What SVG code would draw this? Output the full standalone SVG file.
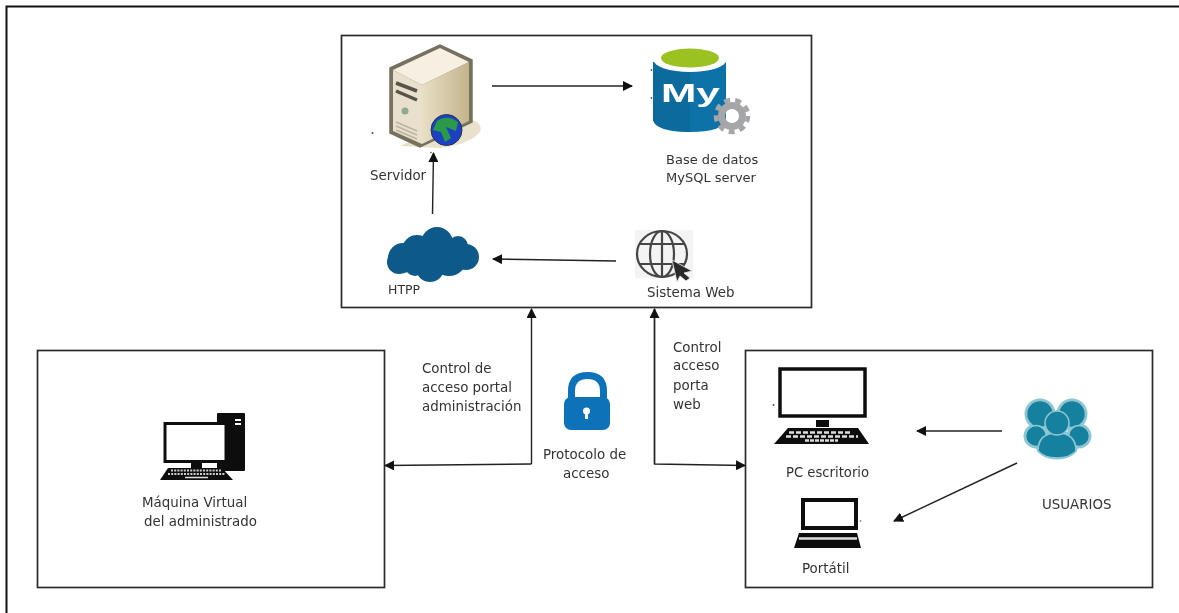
<svg xmlns="http://www.w3.org/2000/svg" width="1179" height="613" viewBox="0 0 1179 613">
<defs>
<style>
.box{fill:#fff;stroke:#2a2a2a;stroke-width:1.7}
.frame{fill:none;stroke:#111;stroke-width:2}
.c{fill:none;stroke:#222;stroke-width:1.4}
.soft{filter:url(#s)}
text{font-family:"DejaVu Sans","Liberation Sans",sans-serif;font-size:13.4px;fill:#333}
.speck{fill:#555}
</style>
<filter id="s" x="-5%" y="-5%" width="110%" height="110%"><feGaussianBlur stdDeviation="0.45"/></filter>
<marker id="a" viewBox="0 0 10 10" refX="9" refY="5" markerWidth="10" markerHeight="10" markerUnits="userSpaceOnUse" orient="auto"><path d="M0 0L10 5L0 10z" fill="#111"/></marker>
<linearGradient id="srv" x1="0" y1="0" x2="1" y2="0"><stop offset="0" stop-color="#e8dfc6"/><stop offset="1" stop-color="#c4b48c"/></linearGradient>
</defs>
<rect width="1179" height="613" fill="#fff"/>
<path class="frame" d="M6.500 613V6.500H1179"/>
<rect class="box" x="341.500" y="35.500" width="470" height="272"/>
<rect class="box" x="37.500" y="350.500" width="347" height="237"/>
<rect class="box" x="745.500" y="350.500" width="407" height="237"/>
<g id="connectors">
<path class="c" d="M492 86H632" marker-end="url(#a)"/>
<path class="c" d="M432.500 214L433.500 153" marker-end="url(#a)"/>
<path class="c" d="M616 261L493 259" marker-end="url(#a)"/>
<path class="c" d="M531.500 464V309" marker-end="url(#a)"/>
<path class="c" d="M531.500 464L385 465.500" marker-end="url(#a)"/>
<path class="c" d="M654.500 309V464L745 465.500" marker-end="url(#a)"/>
<path class="c" d="M654.500 464V309" marker-end="url(#a)"/>
<path class="c" d="M1002 431H917" marker-end="url(#a)"/>
<path class="c" d="M1017 463L894 521" marker-end="url(#a)"/>
</g>
<g id="servidor" class="soft">
<path d="M400 146L462 118Q484 120 480 132Q470 144 440 148Z" fill="#e9e1cc"/>
<path d="M390 68L440 45L472 60V122L420 147L390 133Z" fill="#77715f" stroke="#77715f" stroke-width="1.500"/>
<path d="M393 70L440 48L469 62L422 85Z" fill="#f5f0e2"/>
<path d="M393 70L422 85V144L393 131Z" fill="#e8e0ca"/>
<path d="M422 85L469 62V121L422 144Z" fill="url(#srv)"/>
<path d="M396 83L417 91M396 91L417 100" stroke="#55534b" stroke-width="3.500" fill="none"/>
<circle cx="405" cy="111" r="3.500" fill="#8cab90"/>
<path d="M396 122L417 131M396 126L417 135M396 130L417 139" stroke="#b9b4a4" stroke-width="1.500"/>
<circle cx="446.500" cy="130" r="15.500" fill="#1c3fc4" stroke="#2b3350"/>
<path d="M437 121Q447 114 458 122L456 131L446 127L451 138L445 142L441 132L433 130Z" fill="#2c9a48"/>
<circle class="speck" cx="372.500" cy="133" r="1"/>
<circle class="speck" cx="431" cy="152.500" r=".8"/>
<text x="370" y="180">Servidor</text>
</g>
<g id="mysql" class="soft">
<path d="M653 62V120Q656 132 690 132Q723 132 726 120V62Z" fill="#0f72a8"/>
<path d="M653 62V120Q656 131 690 132V62Z" fill="#106a9c"/>
<ellipse cx="690" cy="60" rx="36.500" ry="12" fill="#fff"/>
<ellipse cx="690" cy="58" rx="29" ry="9.500" fill="#9cc222"/>
<circle class="speck" cx="651.500" cy="70" r=".9"/>
<circle class="speck" cx="651.500" cy="98" r=".9"/>
<text x="661" y="102" textLength="59" lengthAdjust="spacingAndGlyphs" style="font:bold 26px 'Liberation Sans',sans-serif;fill:#fff">My</text>
<circle cx="732" cy="116" r="10.500" fill="none" stroke="#a5a6a8" stroke-width="7"/>
<circle cx="732" cy="116" r="16" fill="none" stroke="#a5a6a8" stroke-width="4.500" stroke-dasharray="6 5.170"/>
<text x="666" y="164" style="font-size:13px">Base de datos</text>
<text x="666" y="182" style="font-size:13px">MySQL server</text>
</g>
<g id="htpp" class="soft">
<g fill="#0f5a8a">
<circle cx="437" cy="243" r="16"/><circle cx="458" cy="246" r="10"/><circle cx="466" cy="257" r="13"/>
<circle cx="449" cy="258" r="18"/><circle cx="430" cy="268" r="14"/><circle cx="403" cy="258" r="15"/>
<circle cx="417" cy="250" r="15"/><circle cx="399" cy="262" r="12"/><circle cx="415" cy="266" r="10"/>
<ellipse cx="432" cy="258" rx="40" ry="15"/>
</g>
<text x="388" y="294" style="font-size:12.500px;font-weight:500">HTPP</text>
</g>
<g id="web" class="soft">
<rect x="635" y="230" width="58" height="48" fill="#f3f3f3"/>
<g fill="none" stroke="#444" stroke-width="2.200">
<ellipse cx="662" cy="254" rx="25" ry="23"/>
<ellipse cx="662" cy="254" rx="12" ry="23"/>
<path d="M662 231V277M640 244H684M640 264H684"/>
</g>
<path d="M672 260L692 271L684 273L690 278L686 281L680 276L677 282Z" fill="#2a2a2a" stroke="#f3f3f3" stroke-width=".8"/>
<text x="647" y="297">Sistema Web</text>
</g>
<g id="admin" class="soft">
<rect x="217" y="413" width="28" height="58" rx="1" fill="#111"/>
<rect x="235" y="419" width="6" height="2" fill="#fff"/>
<rect x="235" y="423" width="6" height="2" fill="#fff"/>
<rect x="165" y="423.500" width="61" height="38" fill="#fff" stroke="#111" stroke-width="3"/>
<rect x="191" y="463" width="11" height="6" fill="#111"/>
<path d="M168 468H222L233 480H160Z" fill="#111"/>
<path d="M171 470.500H221M168 474H225" stroke="#ccc" stroke-width="1.800" stroke-dasharray="2 1.200"/>
<path d="M185 477.500H208" stroke="#ddd" stroke-width="1.500"/>
<text x="142" y="507">Máquina Virtual</text>
<text x="144" y="526">del administrado</text>
</g>
<g id="lock" class="soft">
<path d="M571.500 405V391Q571.500 375.500 587.500 375.500Q603.500 375.500 603.500 391V405" fill="none" stroke="#0f72b8" stroke-width="7"/>
<rect x="564" y="397" width="46" height="33" rx="7" fill="#0f72b8"/>
<circle cx="586.500" cy="411" r="3.500" fill="#fff"/>
<rect x="585" y="411" width="3" height="8" fill="#fff"/>
<text x="543" y="459">Protocolo de</text>
<text x="563" y="478">acceso</text>
</g>
<text id="lbl-admin" class="soft" x="422" y="372.500">Control de<tspan x="422" y="391.500">acceso portal</tspan><tspan x="422" y="411">administración</tspan></text>
<text id="lbl-web" class="soft" x="673" y="351.500">Control<tspan x="673" y="370">acceso</tspan><tspan x="673" y="390">porta</tspan><tspan x="673" y="408.500">web</tspan></text>
<g id="pc" class="soft">
<rect x="780" y="369" width="85" height="47" fill="#fff" stroke="#111" stroke-width="3.500"/>
<rect x="816" y="420" width="13" height="7" fill="#111"/>
<path d="M788 428H858L869 444H774Z" fill="#111"/>
<path d="M789 432.500H852M786 436.500H858" stroke="#ddd" stroke-width="2.500" stroke-dasharray="5 2"/>
<path d="M805 440.500H838" stroke="#ddd" stroke-width="2.500" stroke-dasharray="4 1"/>
<circle class="speck" cx="773.500" cy="405" r="1"/>
<text x="786" y="477" style="font-size:13.200px">PC escritorio</text>
</g>
<g id="laptop" class="soft">
<rect x="803" y="500" width="53" height="28" fill="#fff" stroke="#111" stroke-width="4"/>
<path d="M799 533H857L861 548H794Z" fill="#111"/>
<path d="M799 538.500H857" stroke="#ddd" stroke-width="2.500"/>
<circle class="speck" cx="860.500" cy="521" r=".8"/>
<text x="802" y="573">Portátil</text>
</g>
<g id="usuarios" class="soft">
<g fill="#8cc6d2" stroke="#8cc6d2" stroke-width="3">
<circle cx="1040" cy="414" r="14"/><circle cx="1072" cy="414" r="14"/>
<circle cx="1036" cy="436" r="11"/><circle cx="1079" cy="436" r="11"/>
<ellipse cx="1057" cy="445" rx="20" ry="13"/>
</g>
<g fill="#17809f" stroke="#8cc6d2" stroke-width="1.600">
<circle cx="1040" cy="414" r="13.500"/><circle cx="1072" cy="414" r="13.500"/>
<circle cx="1036" cy="436" r="10.500"/><circle cx="1079" cy="436" r="10.500"/>
<path d="M1038 451Q1038 433 1057 433Q1076 433 1076 451Q1070 458 1057 458Q1044 458 1038 451Z"/>
<circle cx="1057" cy="423" r="12"/>
</g>
<text x="1042" y="509">USUARIOS</text>
</g>
</svg>
